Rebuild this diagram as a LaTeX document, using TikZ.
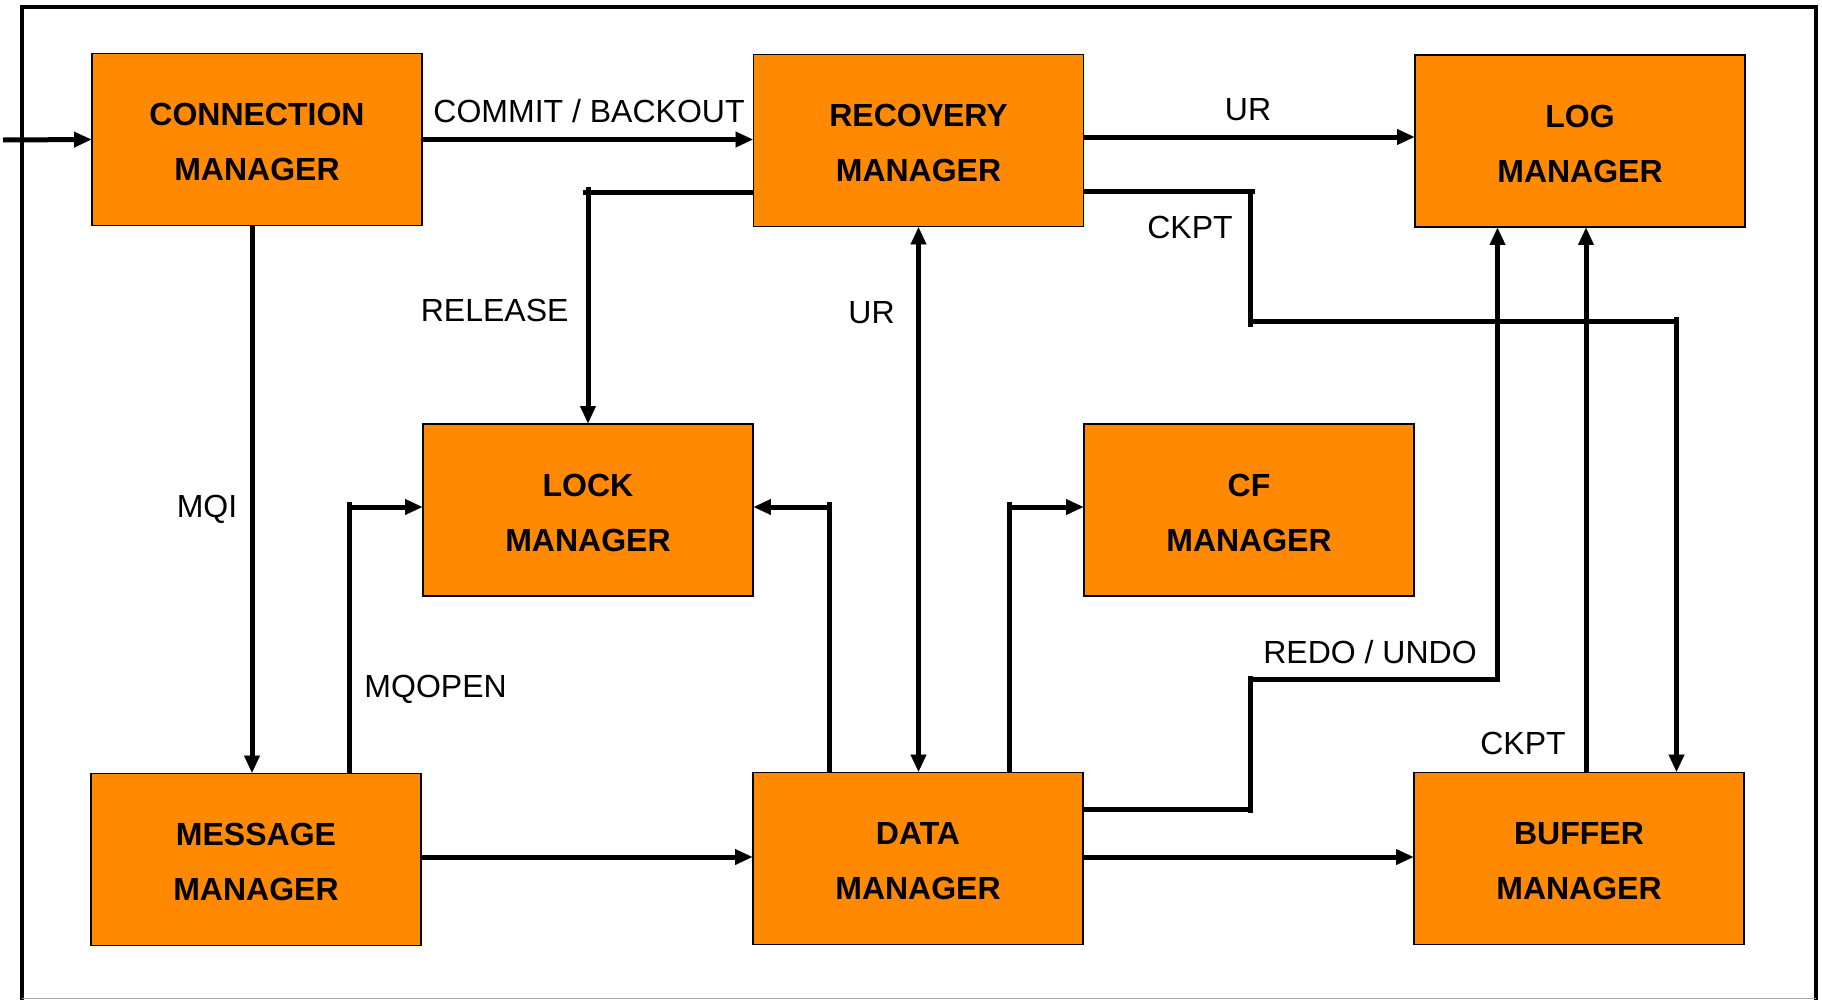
\documentclass[tikz,border=0pt]{standalone}
\usepackage{fontspec}
\setmainfont{Liberation Sans}
\usetikzlibrary{arrows.meta}
\definecolor{boxorange}{RGB}{255,137,0}
% taller first line so the two-line titles sit a little lower in the boxes
\newcommand\titlestrut{\rule{0pt}{28pt}}
\begin{document}
\begin{tikzpicture}[x=1pt,y=-1pt,
  mgr/.style={draw=black, line width=1.8pt, fill=boxorange,
    minimum width=330pt, minimum height=172pt, inner sep=0pt,
    align=center, font=\bfseries\fontsize{32}{55}\selectfont},
  wire/.style={line width=5pt},
  tipA/.tip={Triangle[length=17pt,width=16pt,line width=0.1pt]},
  arr/.style={wire, -tipA},
  lab/.style={anchor=base, inner sep=0pt, font=\fontsize{32}{38}\selectfont},
]
\useasboundingbox (0,0) rectangle (1822,999);

% outer frame
\draw[line width=4.5pt] (22,1003) -- (22,7) -- (1816,7) -- (1816,1003);
\draw[black!35, line width=1.5pt] (22,998.5) -- (1816,998.5);

% managers
\node[mgr] (conn) at (257,139.5)  {\titlestrut CONNECTION\\MANAGER};
\node[mgr] (rec)  at (918.5,140.5){\titlestrut RECOVERY\\MANAGER};
\node[mgr] (log)  at (1580,141)   {\titlestrut LOG\\MANAGER};
\node[mgr] (lock) at (588,510)    {\titlestrut LOCK\\MANAGER};
\node[mgr] (cf)   at (1249,510)   {\titlestrut CF\\MANAGER};
\node[mgr] (msg)  at (256,859.5)  {\titlestrut MESSAGE\\MANAGER};
\node[mgr] (data) at (918,858.5)  {\titlestrut DATA\\MANAGER};
\node[mgr] (buf)  at (1579,858.5) {\titlestrut BUFFER\\MANAGER};

% bend points and routing rails
\coordinate (in)     at (3,140);
\coordinate (urY)    at (0,137);
\coordinate (relTurn) at (588,192.3);
\coordinate (mqiX)   at (252,0);
\coordinate (moTurn) at (349,507);
\coordinate (dlTurn) at (829,507);
\coordinate (dcTurn) at (1009,507);
\coordinate (rdA)    at (1250,809.5);
\coordinate (rdB)    at (1250,679);
\coordinate (rdC)    at (1497.5,679);
\coordinate (bcX)    at (1586,0);
\coordinate (ckA)    at (1250.7,191.5);
\coordinate (ckB)    at (1250.7,321.7);
\coordinate (ckC)    at (1676.5,321.7);
\coordinate (botY)   at (0,857);

% top row
\draw[arr] (in) -- (conn.west);
\draw[arr] (conn.east) -- (conn.east -| rec.west);
\draw[arr] (rec.east |- urY) -- (log.west |- urY);

% release path to the lock manager
\draw[wire] (rec.west |- relTurn) -- ([xshift=-5pt]relTurn);
\draw[arr] ([yshift=5pt]relTurn) -- (lock.north);

% MQI
\draw[arr] (conn.south -| mqiX) -- (msg.north -| mqiX);

% MQOPEN
\draw[wire] (msg.north -| moTurn) -- ([yshift=5pt]moTurn);
\draw[arr] ([xshift=-2.5pt]moTurn) -- (lock.west |- moTurn);

% data manager to lock manager
\draw[wire] (data.north -| dlTurn) -- ([yshift=5pt]dlTurn);
\draw[arr] ([xshift=2.5pt]dlTurn) -- (lock.east |- dlTurn);

% UR between recovery and data
\draw[wire, tipA-tipA] (rec.south) -- (rec.south |- data.north);

% data manager to CF manager
\draw[wire] (data.north -| dcTurn) -- ([yshift=5pt]dcTurn);
\draw[arr] ([xshift=-2.5pt]dcTurn) -- (cf.west |- dcTurn);

% REDO / UNDO to log manager
\draw[wire] (data.east |- rdA) -- ([xshift=2.5pt]rdA);
\draw[wire] ([yshift=-3pt]rdA) -- ([yshift=3pt]rdB);
\draw[wire] ([xshift=-2.5pt]rdB) -- ([xshift=2.5pt]rdC);
\draw[arr] ([yshift=-2.5pt]rdC) -- (log.south -| rdC);

% buffer checkpoint to log manager
\draw[arr] (buf.north -| bcX) -- (log.south -| bcX);

% recovery checkpoint to buffer manager
\draw[wire] (rec.east |- ckA) -- ([xshift=4pt]ckA);
\draw[wire] ([yshift=3pt]ckA) -- ([yshift=-5pt]ckB);
\draw[wire] ([xshift=-2.5pt]ckB) -- ([xshift=2.5pt]ckC);
\draw[arr] ([yshift=5pt]ckC) -- (buf.north -| ckC);

% bottom row
\draw[arr] (msg.east |- botY) -- (data.west |- botY);
\draw[arr] (data.east |- botY) -- (buf.west |- botY);

% connector labels
\node[lab] (lCommit) at (589,122.5)   {COMMIT / BACKOUT};
\node[lab] (lUR1)    at (1248,120.5)  {UR};
\node[lab] (lCk1)    at (1190,238)    {CKPT};
\node[lab] (lRel)    at (494.7,321.7) {RELEASE};
\node[lab] (lUR2)    at (871.5,323.5) {UR};
\node[lab] (lMqi)    at (207,517.5)   {MQI};
\node[lab] (lMqo)    at (435.6,697.5) {MQOPEN};
\node[lab] (lRedo)   at (1370,663.5)  {REDO / UNDO};
\node[lab] (lCk2)    at (1523,754.5)  {CKPT};
\end{tikzpicture}
\end{document}
